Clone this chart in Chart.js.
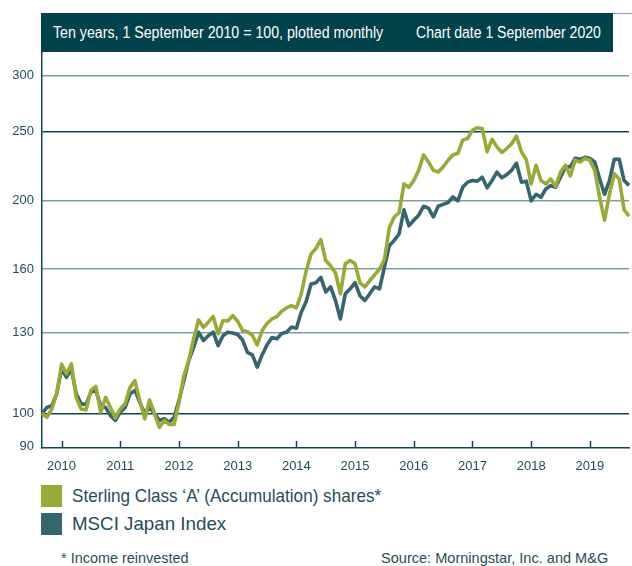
<!DOCTYPE html>
<html>
<head>
<meta charset="utf-8">
<script src="https://cdn.jsdelivr.net/npm/chart.js@4.4.0/dist/chart.umd.min.js"></script>
<style>
  html, body { margin: 0; padding: 0; background: #fff; overflow: hidden; }
  body { width: 632px; height: 566px; position: relative; font-family: "Liberation Sans", Arial, sans-serif; color: #1f4e58; }
  #topline { position: absolute; left: 41px; top: 13px; width: 600px; height: 1px; background: #86a3a8; }
  #band { position: absolute; left: 41px; top: 13px; width: 572px; height: 39px; background: #00434c; color: #fff; font-size: 16px; }
  .fit { position: absolute; white-space: nowrap; transform-origin: 0 0; }
  #chart { position: absolute; left: 0; top: 0; }
  .key { position: absolute; left: 41px; width: 21px; height: 22px; }
  .keytxt { font-size: 18.5px; line-height: 22px; }
  .foot { font-size: 15px; line-height: 20px; top: 548px; }
</style>
</head>
<body>
<div id="topline"></div>
<canvas id="chart" width="640" height="480"></canvas>
<div id="band">
  <span class="fit" style="left:12px;top:11px" data-w="330">Ten years, 1 September 2010 = 100, plotted monthly</span>
  <span class="fit" style="left:375px;top:11px" data-w="185">Chart date 1 September 2020</span>
</div>
<div class="key" style="top:485px;background:#99aa36"></div>
<div class="fit keytxt" style="left:72px;top:485px" data-w="309">Sterling Class ‘A’ (Accumulation) shares*</div>
<div class="key" style="top:513px;background:#35666f"></div>
<div class="fit keytxt" style="left:72px;top:513px" data-w="154">MSCI Japan Index</div>
<div class="fit foot" style="left:61px" data-w="128">* Income reinvested</div>
<div class="fit foot" style="left:381px" data-w="227">Source: Morningstar, Inc. and M&amp;G</div>

<script>
// squeeze the condensed captions to the widths they take in the original
document.querySelectorAll('.fit').forEach(function(el) {
  var w = +el.getAttribute('data-w');
  el.style.transform = 'scaleX(' + (w / el.offsetWidth) + ')';
});

// monthly points, 1 Sep 2010 .. 1 Sep 2020
var months = [];
for (var y = 2010; y <= 2020; y++) {
  for (var m = 1; m <= 12; m++) {
    if ((y == 2010 && m < 9) || (y == 2020 && m > 9)) continue;
    months.push(y + '-' + (m < 10 ? '0' + m : m));
  }
}

var fundValues = [
  100, 98.8, 101.5, 106.6, 117.5, 113.8, 117.5, 105.4, 101.5, 101.2,
  107.8, 109.2, 100.4, 105.4, 102, 98.6, 101.5, 103.2, 108.9, 111.3,
  104.3, 98.3, 104.5, 100, 95.6, 97.8, 96.5, 96.5, 103.7, 113.1,
  118.8, 127.5, 135.6, 132.4, 134.6, 137.1, 129.6, 135.3, 135.1, 137.5,
  135, 131, 130.5, 129, 125, 131, 134, 136, 137, 139.5,
  141, 142, 141, 147.6, 159, 168, 171, 176, 164.5, 161.7,
  158, 147.6, 162.7, 164.5, 162.7, 153, 151, 154, 157, 160,
  165, 183, 189.5, 192, 211, 208.7, 213.3, 220.5, 231.8, 226.6,
  220.5, 219.3, 223, 227.9, 231.8, 233.1, 243.3, 244.6, 251.2, 253.3,
  252.6, 234.3, 243.9, 238, 233.7, 236.7, 240.5, 246.5, 234.3, 228.3,
  211, 224.2, 213.3, 211, 214.4, 209.3, 219.3, 224.2, 216.5, 227.9,
  226.6, 229.3, 227.9, 220.5, 201.9, 187.5, 204, 218, 214.4, 194,
  190
];

var indexValues = [
  100, 102, 102.6, 106.6, 115.6, 112.5, 115.6, 106.6, 103.2, 103,
  107.2, 107.8, 102.6, 102, 99.3, 97.8, 100.4, 102, 106.6, 107.8,
  103.7, 100, 102, 100, 97.8, 98.3, 97.2, 98.8, 104.3, 111.3,
  118.8, 124, 130.3, 126.8, 128.8, 130.3, 124.7, 128.8, 130.3, 129.9,
  129.3, 127, 122, 121, 116.3, 121, 125, 128, 127.5, 129.7,
  130.3, 132.5, 132, 139, 144, 152.4, 153, 155.7, 148.5, 151,
  144.4, 136, 147.6, 150, 153, 146.7, 144.4, 147.6, 151, 150,
  161, 172.6, 175.6, 179.3, 194, 184.1, 187.5, 190.6, 196.2, 195,
  189.5, 196.2, 197.4, 198.6, 202.2, 199.7, 208.7, 212.2, 213.3, 212.9,
  215.6, 208.3, 213.3, 219.3, 215.2, 217.4, 220.5, 225.7, 212.2, 212.9,
  199.7, 204, 202, 207.6, 209.9, 208.7, 215.6, 223, 223, 229.3,
  228.6, 230, 229.3, 226.6, 214.4, 204, 213.3, 228.6, 228.6, 213.3,
  210
];

var yTicks = [90, 100, 130, 160, 200, 250, 300];
var yearTickMonths = ['2011-01', '2012-01', '2013-01', '2014-01', '2015-01', '2016-01', '2017-01', '2018-01', '2019-01', '2020-01'];
var yearLabels = ['2010', '2011', '2012', '2013', '2014', '2015', '2016', '2017', '2018', '2019'];

var dark = '#0d4650';
var light = '#7f9ea3';

var innerTicks = {
  id: 'innerTicks',
  afterDatasetsDraw: function(chart) {
    var ctx = chart.ctx, xs = chart.scales.x, b = chart.chartArea.bottom;
    ctx.save();
    ctx.strokeStyle = dark;
    ctx.lineWidth = 1.5;
    yearTickMonths.forEach(function(mo) {
      var px = Math.round(xs.getPixelForValue(months.indexOf(mo))) + 0.5;
      ctx.beginPath();
      ctx.moveTo(px, b);
      ctx.lineTo(px, b - 7);
      ctx.stroke();
    });
    ctx.restore();
  }
};

new Chart(document.getElementById('chart'), {
  type: 'line',
  data: {
    labels: months,
    datasets: [
      { label: 'Sterling Class A (Accumulation) shares*', data: fundValues, borderColor: '#99aa36', borderWidth: 3.6, pointRadius: 0, tension: 0, borderJoinStyle: 'round' },
      { label: 'MSCI Japan Index', data: indexValues, borderColor: '#35666f', borderWidth: 3.6, pointRadius: 0, tension: 0, borderJoinStyle: 'round' }
    ]
  },
  options: {
    responsive: false,
    animation: false,
    layout: { padding: { top: 52, right: 3, left: 0, bottom: 0 } },
    plugins: { legend: { display: false }, tooltip: { enabled: false } },
    scales: {
      x: {
        type: 'category',
        offset: false,
        afterFit: function(s) { s.height = 32; },
        grid: { display: false, drawTicks: false },
        border: { display: true, color: dark, width: 1.5 },
        ticks: {
          autoSkip: false, maxRotation: 0, minRotation: 0, padding: 11,
          color: '#1f4e58', font: { family: 'Liberation Sans, Arial, sans-serif', size: 13 },
          callback: function(v, i) {
            var k = yearTickMonths.indexOf(months[i]);
            return k < 0 ? '' : yearLabels[k];
          }
        }
      },
      y: {
        type: 'logarithmic',
        min: 89.4,
        max: 324,
        afterFit: function(s) { s.width = 42; },
        afterBuildTicks: function(s) { s.ticks = yTicks.map(function(v) { return { value: v }; }); },
        grid: {
          drawTicks: false,
          lineWidth: 1.5,
          color: function(c) {
            var v = c.tick && c.tick.value;
            if (v == 90) return 'rgba(0,0,0,0)';
            return (v == 100 || v == 250) ? dark : light;
          }
        },
        border: { display: true, color: dark, width: 1.5 },
        ticks: {
          padding: 8,
          color: '#1f4e58', font: { family: 'Liberation Sans, Arial, sans-serif', size: 13 },
          callback: function(v) { return String(v); }
        }
      }
    }
  },
  plugins: [innerTicks]
});
</script>
</body>
</html>
